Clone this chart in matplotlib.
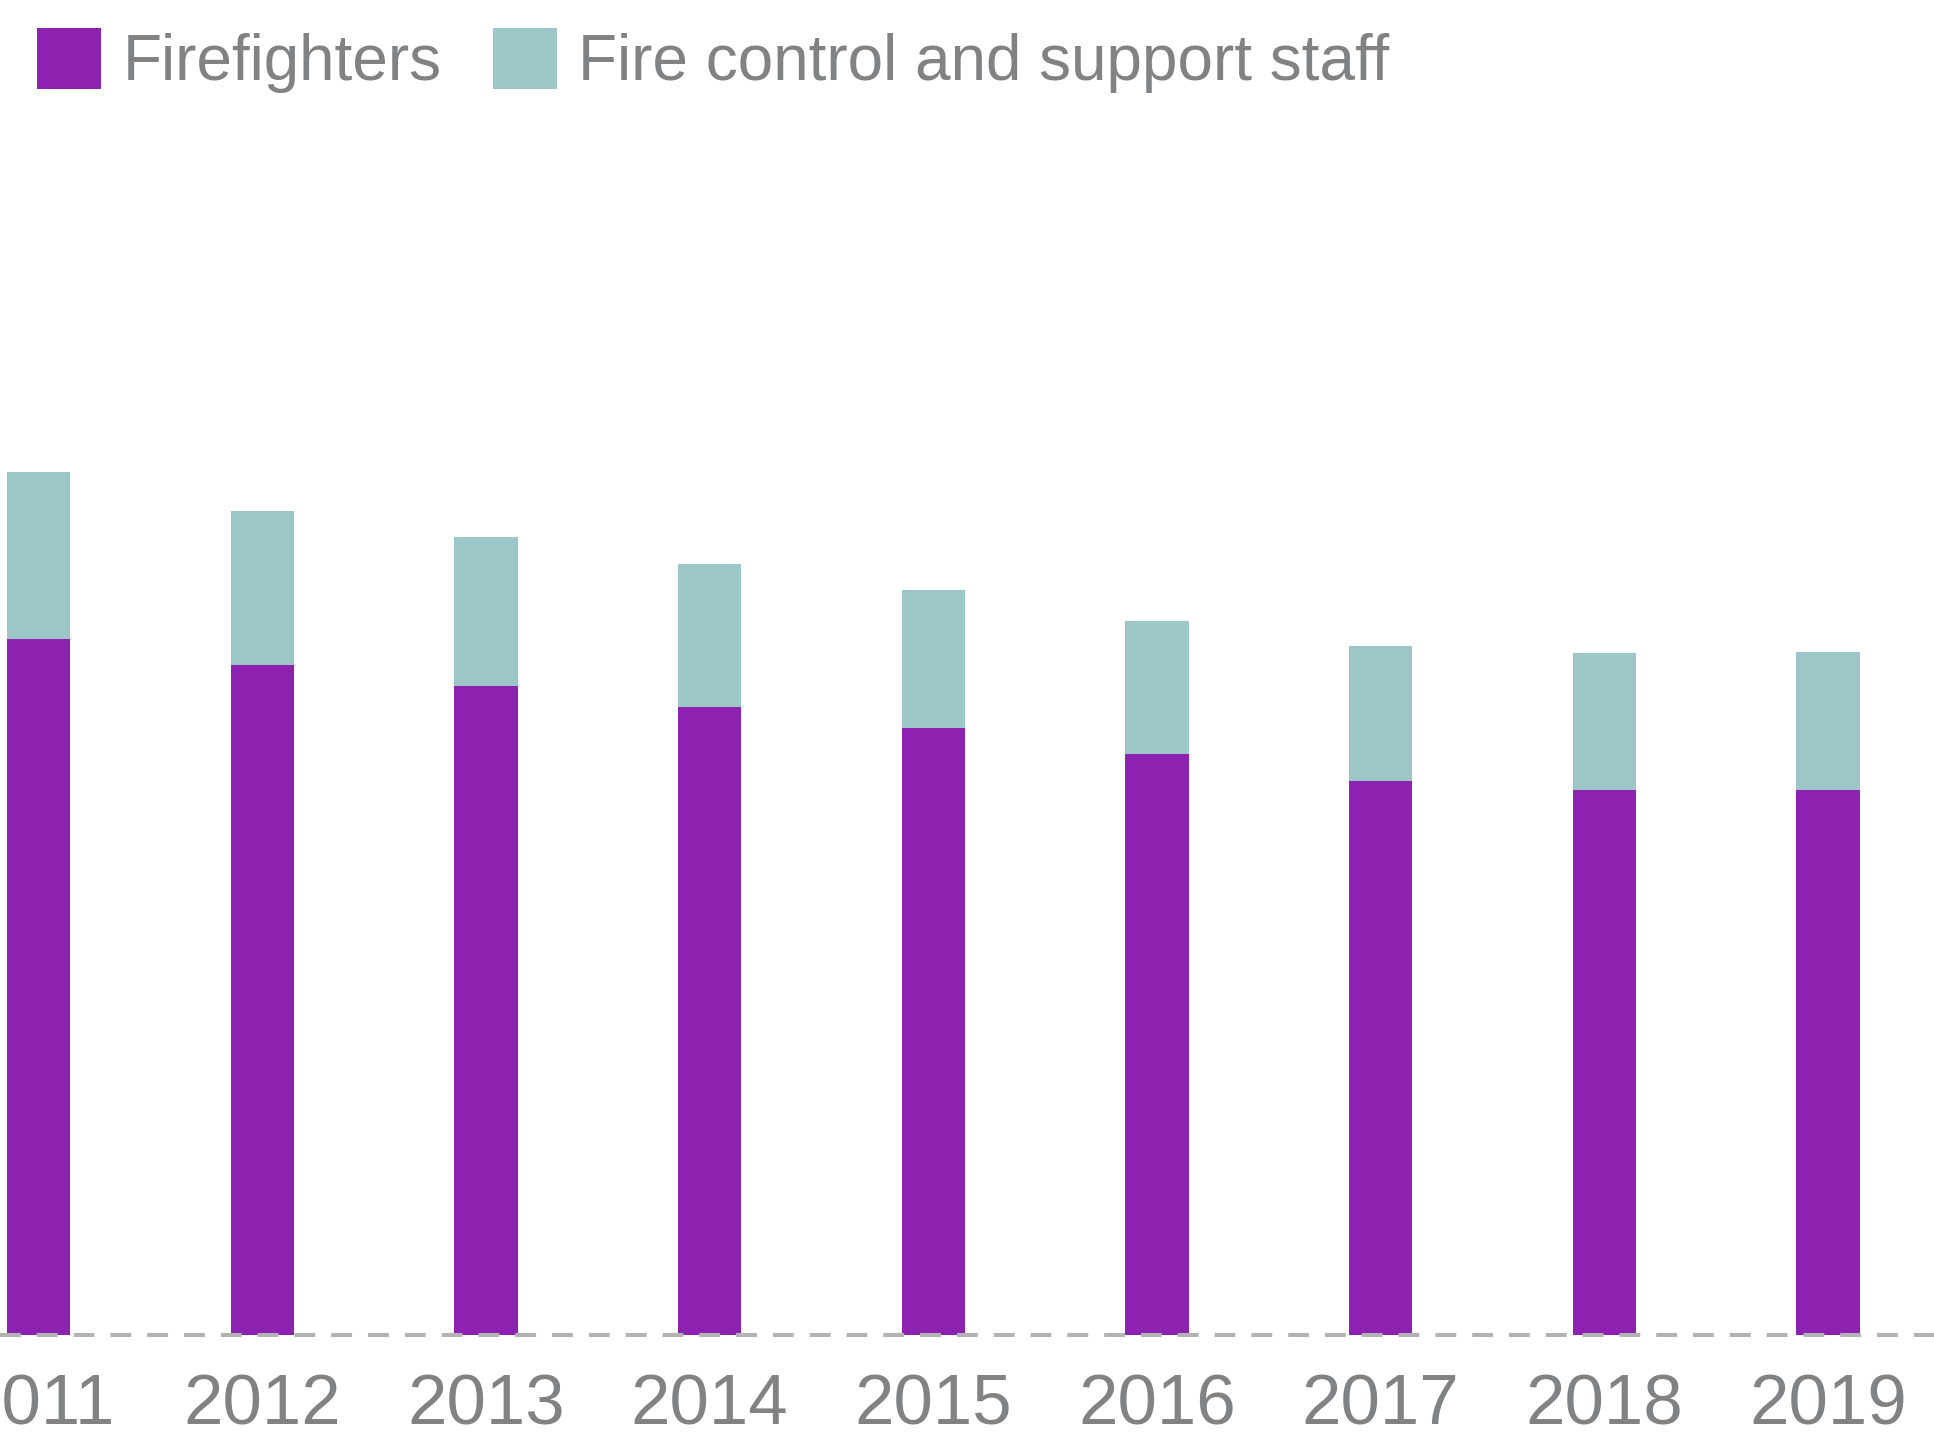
import matplotlib
matplotlib.use("Agg")
import matplotlib.pyplot as plt
from matplotlib.patches import Patch

years = ["2011", "2012", "2013", "2014", "2015", "2016", "2017", "2018", "2019"]
firefighters = [36700, 35300, 34200, 33100, 32000, 30600, 29200, 28700, 28700]
support_staff = [8780, 8130, 7870, 7540, 7280, 7020, 7090, 7220, 7290]

purple = "#8E22B0"
teal = "#9DC6C9"
text_grey = "#808284"
line_grey = "#B3B3B3"

plt.rcParams["font.family"] = ["Liberation Sans", "DejaVu Sans"]
plt.rcParams["lines.scale_dashes"] = False

W, H, DPI = 1934, 1440, 100
fig = plt.figure(figsize=(W / DPI, H / DPI), dpi=DPI)
fig.patch.set_facecolor("white")

base_px = 1335
ax = fig.add_axes([0, (H - base_px) / H, 1, base_px / H])
ax.set_facecolor("none")

x = list(range(len(years)))
bw = 0.283
ax.bar(x, firefighters, width=bw, color=purple, linewidth=0, zorder=2)
ax.bar(x, support_staff, width=bw, bottom=firefighters, color=teal, linewidth=0, zorder=2)

spacing_px = 223.7
first_px = 38.5
ax.set_xlim(-first_px / spacing_px, (W - first_px) / spacing_px)
ax.set_ylim(0, 70350)

ax.axhline(0, color=line_grey, linewidth=2.9, linestyle=(0, (15, 11.5)), zorder=3, clip_on=False)

for s in ax.spines.values():
    s.set_visible(False)
ax.set_yticks([])
ax.set_xticks(x)
ax.set_xticklabels(years, fontsize=51, color=text_grey)
ax.tick_params(axis="x", length=0, pad=28)

handles = [Patch(facecolor=purple, edgecolor="none", label="Firefighters"),
           Patch(facecolor=teal, edgecolor="none", label="Fire control and support staff")]
fig.legend(handles=handles, loc="upper left", bbox_to_anchor=(37 / W, 1 - 28 / H),
           ncol=2, frameon=False, fontsize=46, labelcolor=text_grey,
           handlelength=1.0, handleheight=1.08, handletextpad=0.34, columnspacing=0.8,
           borderpad=0, borderaxespad=0)

fig.savefig("out.png", dpi=DPI, facecolor="white")
